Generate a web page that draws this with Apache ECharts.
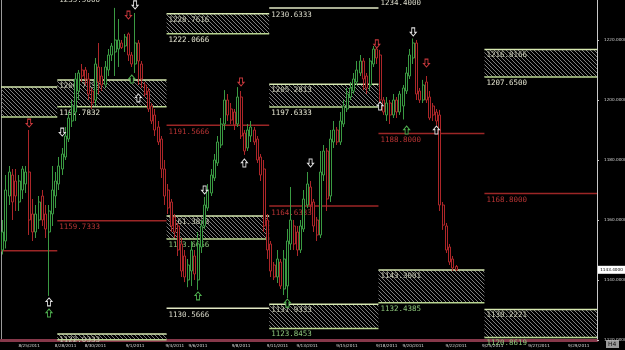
<!DOCTYPE html>
<html><head><meta charset="utf-8">
<script src="https://cdn.jsdelivr.net/npm/echarts@6/dist/echarts.min.js"></script>
<style>html,body{margin:0;padding:0;background:#000;}#c{width:625px;height:350px;}</style>
</head><body><div id="c"></div>
<script>
// ---- data ----
const slotCount = 180;
const dateTicks = [[8,'8/25/2011'],[19,'8/28/2011'],[28,'8/30/2011'],[40,'9/1/2011'],[52,'9/4/2011'],[59,'9/6/2011'],[72,'9/8/2011'],[83,'9/11/2011'],[92,'9/13/2011'],[104,'9/15/2011'],[116,'9/18/2011'],[124,'9/20/2011'],[137,'9/22/2011'],[148,'9/25/2011'],[162,'9/27/2011'],[174,'9/29/2011']];
const priceTicks = [1120,1140,1160,1180,1200,1220];
const lastPrice = 1143.4;
// [open, close, low, high]
const candles = [
[1150,1156,1148.5,1160],[1153,1170,1150.5,1175],[1168,1176,1165,1178],[1175,1166,1160,1177],[1173,1168,1163,1177],
[1166,1173,1163,1175],[1170,1177,1167,1178],[1172,1176,1169,1178],[1176,1160,1155,1190],[1162,1156,1153,1167],
[1156,1162,1154,1165],[1160,1166,1157,1168],[1168,1160,1158,1170],[1162,1157,1154,1165],[1156,1163,1134.7,1165],
[1162,1170,1158,1178],[1168,1173,1164,1176],[1172,1178,1170,1181],[1177,1182,1175,1184],[1181,1188,1180,1191],
[1187,1194,1186,1196],[1193,1198,1191,1200],[1196,1207,1193,1209],[1203,1209,1200,1210],[1210,1208,1206,1212],
[1210,1207,1205,1211],[1207,1202,1200,1209],[1203,1199,1197,1204],[1200,1212,1198,1214],[1211,1206,1202,1219],
[1208,1205,1203,1211],[1205,1211,1204,1213],[1210,1215,1208,1217],[1215,1218,1213,1219],[1216,1220,1208,1230.7],
[1217,1220,1211,1227],[1219,1217.5,1217,1220],[1218,1221,1216,1222],[1222,1215,1213,1222.5],[1215,1212,1211,1216],
[1212,1219,1209,1229],[1219,1213,1205,1220],[1212,1207,1204,1213],[1205,1202,1201,1206],[1203,1197,1196,1204],
[1198,1193,1192,1199],[1195,1190,1188,1197],[1191,1186,1185,1193],[1187,1177,1174,1188],[1177,1168,1165,1180],
[1170,1164,1162,1172],[1166,1158,1156,1167],[1161,1156,1154,1162],[1158,1150,1148,1159],[1152,1143,1141,1154],
[1148,1141,1139.3,1150],[1140,1145,1137.6,1147],[1143,1150,1138,1153],[1148,1142,1140,1150],[1140,1152,1136.7,1156],
[1151,1158,1149,1160],[1158,1165,1157,1167.7],[1164,1170,1163,1172],[1169,1175,1168,1177],[1174,1180,1173,1182],
[1179,1186,1178,1188],[1185,1192,1184,1194],[1192,1200,1190,1203.3],[1200,1195,1193,1202],[1197,1193.3,1192,1199],
[1196,1191.7,1190,1197],[1192,1201,1191,1204.3],[1201,1188,1187,1203],[1189,1183,1181.7,1190],[1184,1190,1183,1192],
[1188,1191,1186,1193],[1190,1186,1185,1191],[1187,1180,1179,1188],[1181,1175,1173,1182],[1177,1158,1156,1180],
[1160,1150,1147,1162],[1152,1143,1141,1153],[1145,1141,1140,1146],[1141,1147,1139,1150],[1146,1138,1137,1147],
[1137,1147,1135,1150],[1138,1153,1134,1157],[1152,1160,1150,1171],[1158,1152,1150,1160],[1156,1150,1148,1158],
[1150,1158,1149,1160],[1157,1167,1156,1170],[1165,1172,1164,1176],[1171,1165,1163,1173],[1166,1158,1156,1167],
[1160,1155,1153,1161],[1155,1176,1154,1183],[1175,1183,1173,1185],[1183,1167,1163,1184],[1168,1187,1166,1190],
[1186,1190,1184,1193],[1190,1186,1185,1191],[1186,1193,1185,1196],[1192,1198,1191,1200],[1197,1202,1196,1204],
[1201,1204,1200,1206],[1203,1207,1202,1209],[1206,1210,1205,1213],[1209,1213,1208,1215],[1213,1207,1203.3,1214],
[1208,1204,1202,1209],[1205,1213,1203,1214],[1212,1217,1211,1218],[1217,1214,1212,1218],[1215,1200,1197,1216.7],
[1200,1196,1195,1201],[1195,1199,1193,1201],[1199,1195,1192,1200],[1195,1200,1194,1202],[1200,1196,1194,1201],
[1196,1202,1195,1203],[1198,1204,1193.5,1205],[1203,1209,1202,1211],[1208,1215,1207,1217],[1214,1219,1212,1220.5],
[1219,1202,1200,1220],[1203,1200,1199,1204],[1200,1205,1199,1206.7],[1206,1200,1199,1208],[1201,1194,1193.3,1203],
[1198,1195,1193,1199],[1196,1193,1191.7,1197],[1195,1165,1163,1196.7],[1165,1158.3,1156.7,1166],[1158,1150,1149,1159],
[1151,1146,1145,1152],[1147,1144,1143,1148],[1144.5,1143.4,1143,1145]
];
// zones: [startSlot, endSlot, top, bottom, topLabel, bottomLabel]
const supplyZones = [
[0,17,1204.33,1194.33,'',''],
[17,50,1206.67,1197.78,'1206.7833','1197.7832'],
[50,81,1228.77,1222.07,'1228.7616','1222.0666'],
[81,114,1205.25,1197.63,'1205.2813','1197.6333'],
[146,180,1216.82,1207.65,'1216.8166','1207.6500']
];
const demandZones = [
[50,81,1161.33,1153.67,'1161.3833','1153.6666'],
[81,114,1131.9,1123.85,'1131.9333','1123.8453'],
[114,146,1143.33,1132.44,'1143.3001','1132.4385'],
[146,180,1130.2,1120.86,'1130.2221','1120.8619'],
[17,50,1122.0,1120.1,'1122.0333','']
];
// [startSlot, endSlot, value, label]
const redLines = [
[0,17,1149.77,''],[17,50,1159.73,'1159.7333'],[50,81,1191.57,'1191.5666'],
[81,114,1164.63,'1164.6333'],[114,146,1188.8,'1188.8000'],[146,180,1168.8,'1168.8000']
];
const lightLines = [
[50,81,1130.57,'1130.5666'],[81,114,1230.63,'1230.6333'],[114,146,1234.4,'1234.4000'],[17,50,1235.5,'1235.5000']
];
// arrows: [slot, price]
const whiteDown = [[18,1189.3],[40,1231.7],[61,1170],[93,1179],[124,1222.7]];
const whiteUp = [[14,1132.7],[41,1200.7],[73,1179],[114,1198],[131,1190]];
const redDown = [[8,1192.3],[38,1228.3],[72,1206],[113,1218.7],[128,1212.3]];
const greenUp = [[14,1129],[59,1134.7],[86,1132.3],[122,1190],[39,1207]];

// ---- chart ----
const categories = Array.from({length: slotCount}, (_, i) => String(i));
const tickMap = new Map(dateTicks);

const hc = document.createElement('canvas'); hc.width = 4; hc.height = 4;
const g = hc.getContext('2d'); g.strokeStyle = '#7e7e7e'; g.lineWidth = 1;
g.beginPath(); g.moveTo(-1,-1); g.lineTo(5,5); g.moveTo(-1,3); g.lineTo(1,5); g.moveTo(3,-1); g.lineTo(5,1); g.stroke();
const hatch = {image: hc, repeat: 'repeat'};

const FONT = '7.5px "DejaVu Sans Mono"';
function edgeX(api, e) {
  const bw = api.size([1, 0])[0];
  return api.coord([0, 1180])[0] - bw / 2 + e * bw;
}
function zoneRenderer(list, bottomColor) {
  return function (params, api) {
    const z = list[params.dataIndex];
    const x0 = edgeX(api, z[0]), x1 = edgeX(api, z[1]);
    const yT = api.coord([0, z[2]])[1], yB = api.coord([0, z[3]])[1];
    const ch = [
      {type: 'rect', shape: {x: x0, y: yT, width: x1 - x0, height: yB - yT}, style: {fill: hatch}},
      {type: 'line', shape: {x1: x0, y1: yT, x2: x1, y2: yT}, style: {stroke: '#d6e8b0', lineWidth: 1.5}},
      {type: 'line', shape: {x1: x0, y1: yB, x2: x1, y2: yB}, style: {stroke: '#b8d490', lineWidth: 1.5}}
    ];
    if (z[4]) ch.push({type: 'text', style: {text: z[4], x: x0 + 2, y: yT + 2, fill: '#c8cbb4', font: FONT, textAlign: 'left', textVerticalAlign: 'top'}});
    if (z[5]) ch.push({type: 'text', style: {text: z[5], x: x0 + 2, y: yB + 2, fill: bottomColor, font: FONT, textAlign: 'left', textVerticalAlign: 'top'}});
    return {type: 'group', children: ch};
  };
}
function lineRenderer(list, lineColor, textColor, w) {
  return function (params, api) {
    const z = list[params.dataIndex];
    const x0 = edgeX(api, z[0]), x1 = edgeX(api, z[1]);
    const y = api.coord([0, z[2]])[1];
    const ch = [{type: 'line', shape: {x1: x0, y1: y, x2: x1, y2: y}, style: {stroke: lineColor, lineWidth: w}}];
    if (z[3]) ch.push({type: 'text', style: {text: z[3], x: x0 + 2, y: y + 2.5, fill: textColor, font: FONT, textAlign: 'left', textVerticalAlign: 'top'}});
    return {type: 'group', children: ch};
  };
}
const upPath = 'path://M4,0 L8,4 L6,4 L6,9 L2,9 L2,4 L0,4 Z';
const downPath = 'path://M2,0 L6,0 L6,5 L8,5 L4,9 L0,5 L2,5 Z';
function arrowSeries(data, path, color) {
  return {type: 'scatter', data: data, symbol: path, symbolSize: [6, 8], z: 6, silent: true,
    itemStyle: {color: '#000', borderColor: color, borderWidth: 1, opacity: 1}};
}

const chart = echarts.init(document.getElementById('c'), null, {renderer: 'canvas'});
chart.setOption({
  backgroundColor: '#000',
  animation: false,
  grid: {left: 1, right: 28, top: 0, bottom: 10, containLabel: false, outerBoundsMode: 'none'},
  xAxis: {
    type: 'category', data: categories, boundaryGap: true,
    axisLine: {show: true, lineStyle: {color: '#86384a', width: 3}},
    axisTick: {show: false},
    splitLine: {show: false},
    axisLabel: {
      interval: (idx) => tickMap.has(idx),
      formatter: (v) => tickMap.get(Number(v)) || '',
      color: '#d8d8d8', fontSize: 4.2, margin: 4, fontFamily: 'DejaVu Sans'
    }
  },
  yAxis: [{
    type: 'value', position: 'right', min: 1120, max: 1233.3333, interval: 20,
    axisLine: {show: true, lineStyle: {color: '#c8c8c8', width: 1}},
    axisTick: {show: true, length: 2, lineStyle: {color: '#c8c8c8'}},
    splitLine: {show: false},
    axisLabel: {color: '#cfcfcf', fontSize: 4.2, margin: 7, fontFamily: 'DejaVu Sans',
      showMaxLabel: false,
      formatter: (v) => priceTicks.includes(Math.round(v * 1000) / 1000) ? v.toFixed(4) : ''}
  }, {
    type: 'value', position: 'left', min: 1120, max: 1233.3333,
    axisLine: {show: true, lineStyle: {color: '#9a9a9a', width: 1}},
    axisTick: {show: false}, axisLabel: {show: false}, splitLine: {show: false}
  }],
  series: [
    {type: 'custom', name: 'supply', renderItem: zoneRenderer(supplyZones, '#e6e6d2'), data: supplyZones.map(z => [z[0], z[2]]), z: 1, silent: true, clip: false},
    {type: 'custom', name: 'demand', renderItem: zoneRenderer(demandZones, '#8cc47a'), data: demandZones.map(z => [z[0], z[2]]), z: 1, silent: true, clip: false},
    {type: 'custom', name: 'red', renderItem: lineRenderer(redLines, '#9c2626', '#b83434', 1.5), data: redLines.map(z => [z[0], z[2]]), z: 2, silent: true, clip: false},
    {type: 'custom', name: 'light', renderItem: lineRenderer(lightLines, '#e2e8c4', '#dcdccc', 1.5), data: lightLines.map(z => [z[0], z[2]]), z: 2, silent: true, clip: false},
    {
      type: 'candlestick', data: candles, barWidth: 2.5, z: 4, silent: true,
      itemStyle: {color: '#000', color0: '#000', borderColor: '#3a9a42', borderColor0: '#ad2629', borderWidth: 1}
    },
    arrowSeries(whiteDown, downPath, '#e0e0e0'),
    arrowSeries(whiteUp, upPath, '#e0e0e0'),
    arrowSeries(redDown, downPath, '#c8383c'),
    arrowSeries(greenUp, upPath, '#4fb04f'),
    {
      type: 'custom', name: 'lastPrice', z: 10, silent: true, clip: false,
      data: [[candles.length - 1, lastPrice]],
      renderItem: function (params, api) {
        const y = api.coord([0, api.value(1)])[1];
        const x = params.coordSys.x + params.coordSys.width + 1;
        return {type: 'group', children: [
          {type: 'rect', shape: {x: x, y: y - 4, width: 27, height: 8}, style: {fill: '#ffffff'}},
          {type: 'text', style: {text: api.value(1).toFixed(4), x: x + 13.5, y: y, fill: '#000', font: '4.2px "DejaVu Sans"', textAlign: 'center', textVerticalAlign: 'middle'}}
        ]};
      }
    }
  ],
  graphic: [
    {type: 'rect', left: 606, top: 340, shape: {width: 13, height: 8}, style: {fill: '#9a9a9a'}},
    {type: 'text', left: 608, top: 341, style: {text: 'H4', fill: '#111', font: '6px "DejaVu Sans"'}}
  ]
});
</script>
</body></html>
